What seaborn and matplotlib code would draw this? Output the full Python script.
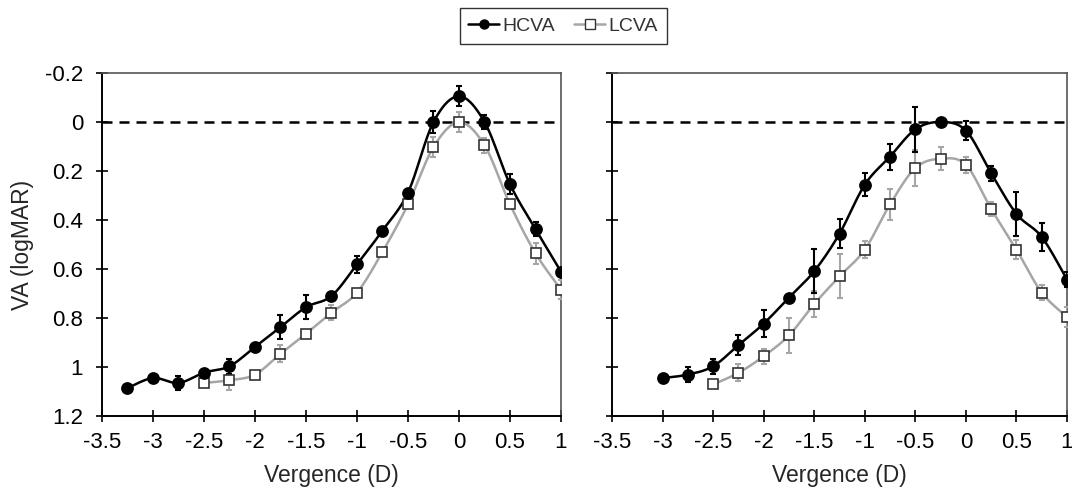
import numpy as np
import pandas as pd
import matplotlib
matplotlib.use("Agg")
import matplotlib.pyplot as plt
import seaborn as sns
from matplotlib.lines import Line2D

sns.set_theme(style="white")
plt.rcParams['font.family'] = ['Liberation Sans', 'DejaVu Sans']

# ---------------- data ----------------
# Left panel
left_hc_x = [-3.25, -3, -2.75, -2.5, -2.25, -2, -1.75, -1.5, -1.25, -1, -0.75, -0.5, -0.25, 0, 0.25, 0.5, 0.75, 1]
left_hc_y = [1.086, 1.045, 1.065, 1.023, 0.997, 0.918, 0.837, 0.756, 0.710, 0.581, 0.443, 0.288, 0.0, -0.105, 0.0, 0.254, 0.437, 0.611]
left_hc_e = [0.0, 0.0, 0.027, 0.012, 0.03, 0.0, 0.05, 0.05, 0.008, 0.035, 0.015, 0.01, 0.046, 0.04, 0.03, 0.04, 0.027, 0.0]

left_lc_x = [-2.5, -2.25, -2, -1.75, -1.5, -1.25, -1, -0.75, -0.5, -0.25, 0, 0.25, 0.5, 0.75, 1]
left_lc_y = [1.065, 1.054, 1.031, 0.946, 0.864, 0.778, 0.696, 0.530, 0.336, 0.102, 0.001, 0.095, 0.336, 0.536, 0.684]
left_lc_e = [0.0, 0.04, 0.0, 0.035, 0.0, 0.03, 0.0, 0.0, 0.0, 0.04, 0.04, 0.03, 0.0, 0.042, 0.04]

# Right panel
right_hc_x = [-3, -2.75, -2.5, -2.25, -2, -1.75, -1.5, -1.25, -1, -0.75, -0.5, -0.25, 0, 0.25, 0.5, 0.75, 1]
right_hc_y = [1.045, 1.031, 0.997, 0.911, 0.823, 0.717, 0.609, 0.456, 0.256, 0.141, 0.030, 0.0, 0.035, 0.209, 0.375, 0.469, 0.643]
right_hc_e = [0.0, 0.03, 0.03, 0.04, 0.055, 0.0, 0.09, 0.06, 0.048, 0.053, 0.093, 0.012, 0.04, 0.03, 0.09, 0.058, 0.03]

right_lc_x = [-2.5, -2.25, -2, -1.75, -1.5, -1.25, -1, -0.75, -0.5, -0.25, 0, 0.25, 0.5, 0.75, 1]
right_lc_y = [1.071, 1.024, 0.956, 0.871, 0.743, 0.630, 0.521, 0.336, 0.188, 0.150, 0.175, 0.355, 0.521, 0.696, 0.796]
right_lc_e = [0.0, 0.035, 0.03, 0.07, 0.053, 0.09, 0.034, 0.063, 0.075, 0.046, 0.033, 0.03, 0.04, 0.03, 0.04]

x_ticks = [-3.5, -3, -2.5, -2, -1.5, -1, -0.5, 0, 0.5, 1]
x_tick_labels = ["-3.5", "-3", "-2.5", "-2", "-1.5", "-1", "-0.5", "0", "0.5", "1"]
y_ticks = [-0.2, 0, 0.2, 0.4, 0.6, 0.8, 1.0, 1.2]
y_tick_labels = ["-0.2", "0", "0.2", "0.4", "0.6", "0.8", "1", "1.2"]

HC_COLOR = "black"
LC_COLOR = "#a6a6a6"
FS = 16
LFS = 16.5


def smooth(x, y, n=20):
    """Excel-style smoothed line (Catmull-Rom / Bezier) through the points."""
    x = np.asarray(x, float)
    y = np.asarray(y, float)
    P = np.column_stack([x, y])
    out = []
    for i in range(len(P) - 1):
        p0 = P[i - 1] if i > 0 else P[i]
        p1 = P[i]
        p2 = P[i + 1]
        p3 = P[i + 2] if i + 2 < len(P) else P[i + 1]
        c1 = p1 + (p2 - p0) / 6.0
        c2 = p2 - (p3 - p1) / 6.0
        t = np.linspace(0, 1, n, endpoint=(i == len(P) - 2))[:, None]
        seg = ((1 - t) ** 3) * p1 + 3 * ((1 - t) ** 2) * t * c1 + 3 * (1 - t) * t ** 2 * c2 + t ** 3 * p2
        out.append(seg)
    out = np.vstack(out)
    return out[:, 0], out[:, 1]


def draw_series(ax, x, y, e, color, marker, mfc, mec, ms, ecolor):
    sx, sy = smooth(x, y)
    df = pd.DataFrame({"x": sx, "y": sy})
    sns.lineplot(data=df, x="x", y="y", ax=ax, color=color, lw=1.8,
                 sort=False, estimator=None, zorder=2)
    ax.errorbar(x, y, yerr=e, fmt="none", ecolor=ecolor, elinewidth=1.5,
                capsize=2.5, capthick=1.5, zorder=3)
    ax.plot(x, y, ls="none", marker=marker, ms=ms, mfc=mfc, mec=mec, mew=1.2, zorder=4)


W, H = 1072, 498
fig = plt.figure(figsize=(W / 100, H / 100), dpi=100)
ax1 = fig.add_axes([102 / W, 82 / H, 459 / W, 343 / H])
ax2 = fig.add_axes([612 / W, 82 / H, 455 / W, 343 / H])

panels = [
    (ax1, left_hc_x, left_hc_y, left_hc_e, left_lc_x, left_lc_y, left_lc_e),
    (ax2, right_hc_x, right_hc_y, right_hc_e, right_lc_x, right_lc_y, right_lc_e),
]

for i, (ax, hx, hy, he, lx, ly, le) in enumerate(panels):
    ax.set_facecolor("white")
    ax.axhline(0, color="black", lw=1.8, ls=(0, (4, 2.8)), zorder=1)
    draw_series(ax, lx, ly, le, LC_COLOR, "s", "white", "#333333", 7.5, LC_COLOR)
    draw_series(ax, hx, hy, he, HC_COLOR, "o", "black", "black", 8, "black")
    ax.set_xlim(-3.5, 1)
    ax.set_ylim(1.2, -0.2)
    ax.set_xticks(x_ticks)
    ax.set_xticklabels(x_tick_labels, fontsize=FS)
    ax.set_yticks(y_ticks)
    if i == 0:
        ax.set_yticklabels(y_tick_labels, fontsize=FS)
        ax.set_ylabel("VA (logMAR)", fontsize=LFS, labelpad=8)
    else:
        ax.set_yticklabels([])
        ax.set_ylabel("")
    ax.set_xlabel("Vergence (D)", fontsize=LFS, labelpad=8)
    ax.tick_params(axis="x", direction="inout", length=9, width=1.2,
                   color="black", pad=7, labelcolor="black")
    ax.tick_params(axis="y", direction="inout", length=9, width=1.2,
                   color="black", pad=9, labelcolor="black")
    ax.tick_params(left=True, bottom=True, top=False, right=False)
    for s in ["left", "bottom"]:
        ax.spines[s].set_color("black")
        ax.spines[s].set_linewidth(1.4)
    for s in ["top", "right"]:
        ax.spines[s].set_color("#555555")
        ax.spines[s].set_linewidth(1.2)

handles = [
    Line2D([], [], color=HC_COLOR, lw=1.8, marker="o", ms=6.5, mfc="black", mec="black"),
    Line2D([], [], color=LC_COLOR, lw=1.8, marker="s", ms=6.5, mfc="white", mec="#333333"),
]
leg = fig.legend(handles, ["HCVA", "LCVA"], loc="center", bbox_to_anchor=(563 / W, 1 - 26 / H),
                 ncol=2, frameon=True, fancybox=False, fontsize=14, handlelength=1.6,
                 handletextpad=0.15, columnspacing=1.0, borderpad=0.45, borderaxespad=0,
                 labelcolor="#333333")
leg.get_frame().set_edgecolor("black")
leg.get_frame().set_linewidth(1.0)

fig.savefig("out.png", dpi=100)
